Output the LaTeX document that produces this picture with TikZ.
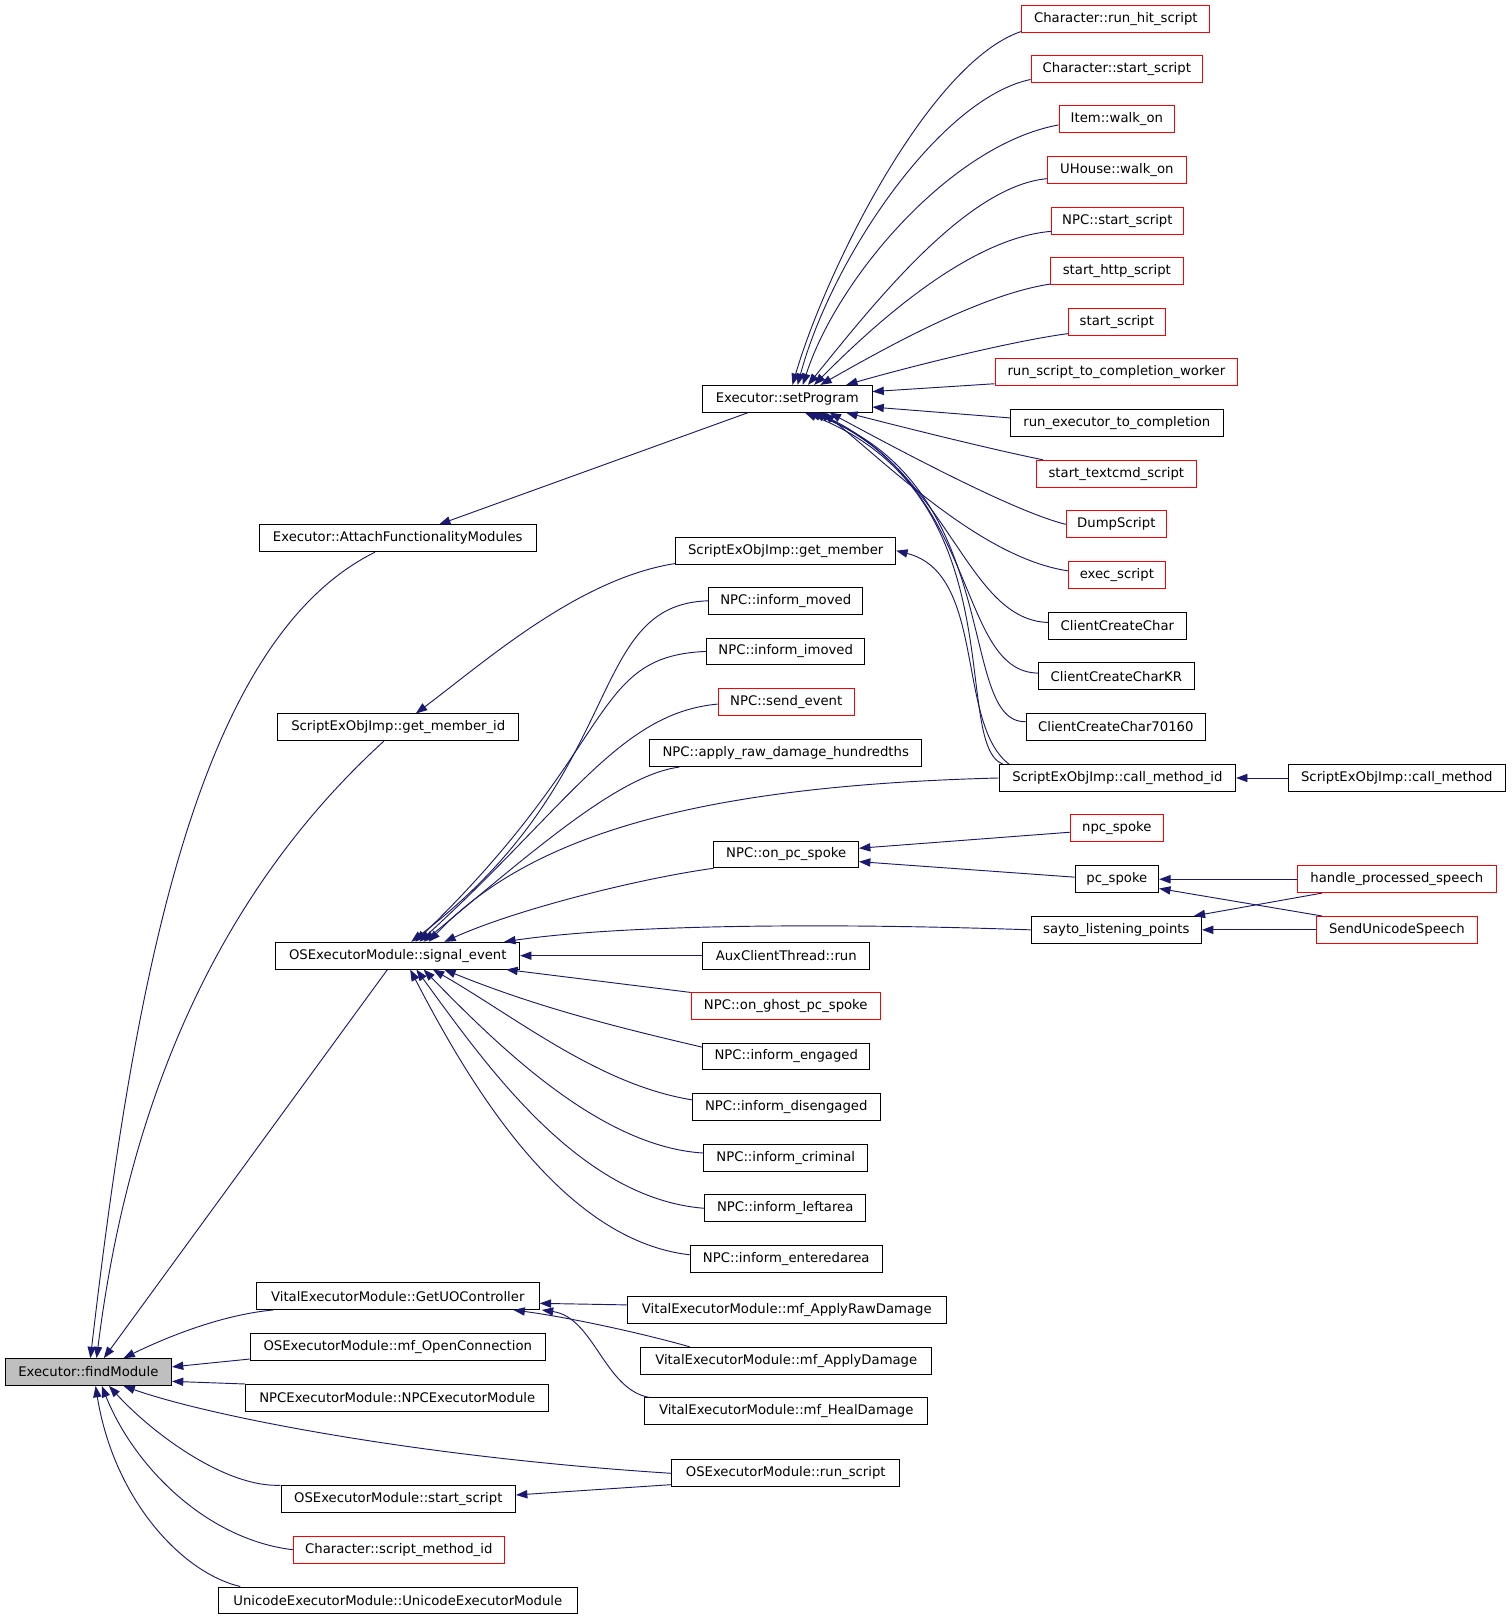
\documentclass[tikz,border=0pt]{standalone}
\usepackage{fontspec}
\setmainfont{DejaVu Sans}
\usetikzlibrary{arrows.meta}
\definecolor{edgeblue}{HTML}{191970}
\begin{document}
\begin{tikzpicture}[x=1pt, y=-1pt,
    fn/.style={draw=black, line width=0.85pt, fill=white, minimum height=26pt, inner xsep=3pt, inner ysep=0pt,
        font=\fontsize{12.8}{14}\selectfont},
    fnred/.style={fn, draw=red},
    fncur/.style={fn, fill=black!25},
    call/.style={draw=edgeblue, line width=0.9pt, {Triangle[length=11pt,width=8pt]}-}]
    \useasboundingbox (0,0) rectangle (1463,1568);
    \fill[white] (0,0) rectangle (1463,1568);

    \node[fncur, minimum width=161pt] (fm) at (85.5,1328) {Executor::findModule};

    \node[fn, minimum width=268pt] (attach) at (385,521) {Executor::AttachFunctionalityModules};
    \node[fn, minimum width=233pt] (getmemid) at (385.5,704) {ScriptExObjImp::get\_member\_id};
    \node[fn, minimum width=236pt] (sigev) at (385,925) {OSExecutorModule::signal\_event};
    \node[fn, minimum width=274pt] (getuo) at (385,1254.5) {VitalExecutorModule::GetUOController};
    \node[fn, minimum width=286pt] (openconn) at (385,1304) {OSExecutorModule::mf\_OpenConnection};
    \node[fn, minimum width=293pt] (npcexec) at (384.5,1353) {NPCExecutorModule::NPCExecutorModule};
    \node[fn, minimum width=227pt] (osstart) at (385.5,1451) {OSExecutorModule::start\_script};
    \node[fnred, minimum width=204pt] (smid) at (386,1500) {Character::script\_method\_id};
    \node[fn, minimum width=348pt] (unicode) at (385,1549) {UnicodeExecutorModule::UnicodeExecutorModule};

    \node[fn, minimum width=164pt] (sp) at (762,386) {Executor::setProgram};
    \node[fn, minimum width=213pt] (getmem) at (760.5,533) {ScriptExObjImp::get\_member};
    \node[fn, minimum width=149pt] (moved) at (760.5,581.5) {NPC::inform\_moved};
    \node[fn, minimum width=153pt] (imoved) at (760.5,630.5) {NPC::inform\_imoved};
    \node[fnred, minimum width=132pt] (sendev) at (761,679.5) {NPC::send\_event};
    \node[fn, minimum width=263pt] (rawdmg) at (760.5,729) {NPC::apply\_raw\_damage\_hundredths};
    \node[fn, minimum width=140pt] (onpc) at (761,827) {NPC::on\_pc\_spoke};
    \node[fn, minimum width=162pt] (aux) at (761,925) {AuxClientThread::run};
    \node[fnred, minimum width=183pt] (ghost) at (760.5,974) {NPC::on\_ghost\_pc\_spoke};
    \node[fn, minimum width=162pt] (engaged) at (761,1022.5) {NPC::inform\_engaged};
    \node[fn, minimum width=182pt] (diseng) at (761,1071.5) {NPC::inform\_disengaged};
    \node[fn, minimum width=159pt] (criminal) at (760.5,1121) {NPC::inform\_criminal};
    \node[fn, minimum width=156pt] (leftarea) at (760,1169.5) {NPC::inform\_leftarea};
    \node[fn, minimum width=186pt] (entered) at (761,1218.5) {NPC::inform\_enteredarea};
    \node[fn, minimum width=309pt] (applyraw) at (761.5,1268) {VitalExecutorModule::mf\_ApplyRawDamage};
    \node[fn, minimum width=282pt] (applydmg) at (761,1317) {VitalExecutorModule::mf\_ApplyDamage};
    \node[fn, minimum width=274pt] (heal) at (761,1366) {VitalExecutorModule::mf\_HealDamage};
    \node[fn, minimum width=221pt] (runscript) at (760.5,1426) {OSExecutorModule::run\_script};

    \node[fnred, minimum width=182pt] (hit) at (1080,18) {Character::run\_hit\_script};
    \node[fnred, minimum width=166pt] (cstart) at (1081,66.5) {Character::start\_script};
    \node[fnred, minimum width=112pt] (item) at (1081,115.5) {Item::walk\_on};
    \node[fnred, minimum width=134pt] (uhouse) at (1081,164.5) {UHouse::walk\_on};
    \node[fnred, minimum width=127pt] (npcstart) at (1081.5,213.5) {NPC::start\_script};
    \node[fnred, minimum width=128pt] (http) at (1081,262.5) {start\_http\_script};
    \node[fnred, minimum width=94pt] (sscript) at (1081,311.5) {start\_script};
    \node[fnred, minimum width=235pt] (worker) at (1080.5,360) {run\_script\_to\_completion\_worker};
    \node[fn, minimum width=206pt] (runexec) at (1081,409.5) {run\_executor\_to\_completion};
    \node[fnred, minimum width=155pt] (textcmd) at (1080.5,458.5) {start\_textcmd\_script};
    \node[fnred, minimum width=97pt] (dump) at (1080.5,507.5) {DumpScript};
    \node[fnred, minimum width=94pt] (exec) at (1081,556.5) {exec\_script};
    \node[fn, minimum width=133pt] (ccc) at (1081.5,605.5) {ClientCreateChar};
    \node[fn, minimum width=151pt] (ccckr) at (1080.5,654.5) {ClientCreateCharKR};
    \node[fn, minimum width=174pt] (ccc70) at (1080,703.5) {ClientCreateChar70160};
    \node[fn, minimum width=229pt] (cmid) at (1081.5,753) {ScriptExObjImp::call\_method\_id};
    \node[fnred, minimum width=90pt] (npcspoke) at (1081,801.5) {npc\_spoke};
    \node[fn, minimum width=81pt] (pcspoke) at (1081,851) {pc\_spoke};
    \node[fn, minimum width=165pt] (sayto) at (1080.5,900) {sayto\_listening\_points};

    \node[fn, minimum width=210pt] (cmeth) at (1352,753) {ScriptExObjImp::call\_method};
    \node[fnred, minimum width=192pt] (hps) at (1352,851) {handle\_processed\_speech};
    \node[fnred, minimum width=156pt] (sus) at (1352,900) {SendUnicodeSpeech};

    \draw[call] ([xshift=2pt]fm.north) .. controls (130,950) and (190,620) .. ([xshift=-22pt]attach.south);
    \draw[call] ([xshift=8pt]fm.north) .. controls (125,1060) and (215,860) .. ([xshift=-14pt]getmemid.south);
    \draw[call] ([xshift=15pt]fm.north) -- ([xshift=-10pt]sigev.south);
    \draw[call] ([xshift=34pt]fm.north) .. controls (170,1290) and (220,1272) .. ([xshift=17pt]getuo.south west);
    \draw[call] ([yshift=5pt]fm.east) -- ([yshift=2pt]openconn.south west);
    \draw[call] ([yshift=-9pt]fm.east) -- (npcexec.north west);
    \draw[call] ([xshift=34pt]fm.south) .. controls (200,1370) and (400,1410) .. (runscript.west);
    \draw[call] ([xshift=20pt]fm.south) .. controls (150,1390) and (220,1440) .. (osstart.north west);
    \draw[call] ([xshift=13pt]fm.south) .. controls (130,1420) and (200,1490) .. (smid.west);
    \draw[call] ([xshift=7pt]fm.south) .. controls (110,1450) and (175,1522) .. ([xshift=22pt]unicode.north west);

    \draw[call] ([xshift=40pt]attach.north) -- ([xshift=-38pt]sp.south);
    \draw[call] ([xshift=17pt]getmemid.north) .. controls (470,640) and (560,560) .. ([yshift=1pt]getmem.south west);

    \draw[call] ([xshift=5pt]sp.north) .. controls (800,260) and (900,60) .. ([yshift=1pt]hit.south west);
    \draw[call] ([xshift=10pt]sp.north) .. controls (805,250) and (910,95) .. ([yshift=3pt]cstart.south west);
    \draw[call] ([xshift=15pt]sp.north) .. controls (810,270) and (920,140) .. ([yshift=8pt]item.south west);
    \draw[call] ([xshift=20pt]sp.north) .. controls (845,295) and (935,180) .. ([yshift=5pt]uhouse.south west);
    \draw[call] ([xshift=26pt]sp.north) .. controls (850,310) and (940,230) .. ([yshift=3pt]npcstart.south west);
    \draw[call] ([xshift=32pt]sp.north) .. controls (860,335) and (950,285) .. ([yshift=1pt]http.south west);
    \draw[call] ([xshift=57pt]sp.north) .. controls (880,355) and (980,330) .. ([yshift=2pt]sscript.south west);
    \draw[call] ([yshift=7pt]sp.east) -- ([yshift=2pt]worker.south west);
    \draw[call] ([yshift=-8pt]sp.east) -- ([yshift=5pt]runexec.west);
    \draw[call] ([xshift=57pt]sp.south) .. controls (880,415) and (960,435) .. ([xshift=7pt]textcmd.north west);
    \draw[call] ([xshift=41pt]sp.south) .. controls (860,430) and (980,495) .. (dump.west);
    \draw[call] ([xshift=35pt]sp.south) .. controls (860,450) and (950,540) .. ([yshift=4pt]exec.west);
    \draw[call] ([xshift=29pt]sp.south) .. controls (920,460) and (935,600) .. ([yshift=3pt]ccc.west);
    \draw[call] ([xshift=25pt]sp.south) .. controls (950,470) and (925,650) .. ([yshift=3pt]ccckr.west);
    \draw[call] ([xshift=21pt]sp.south) .. controls (975,470) and (925,700) .. ([yshift=5pt]ccc70.west);
    \draw[call] ([xshift=17pt]sp.south) .. controls (985,480) and (920,720) .. ([xshift=4pt]cmid.north west);

    \draw[call] (getmem.east) .. controls (955,555) and (925,700) .. ([xshift=10pt]cmid.north west);

    \draw[call] ([xshift=13pt]sigev.north) .. controls (610,750) and (565,585) .. (moved.west);
    \draw[call] ([xshift=17pt]sigev.north) .. controls (600,720) and (570,635) .. (imoved.west);
    \draw[call] ([xshift=21pt]sigev.north) .. controls (550,780) and (600,690) .. ([yshift=-2pt]sendev.west);
    \draw[call] ([xshift=25pt]sigev.north) .. controls (520,820) and (600,750) .. ([xshift=29pt]rawdmg.south west);
    \draw[call] ([xshift=30pt]sigev.north) .. controls (520,800) and (700,760) .. (cmid.west);
    \draw[call] ([xshift=45pt]sigev.north) .. controls (500,880) and (620,850) .. (onpc.south west);
    \draw[call] ([xshift=103pt]sigev.north) .. controls (600,895) and (800,893) .. (sayto.west);
    \draw[call] (sigev.east) -- (aux.west);
    \draw[call] ([xshift=105pt]sigev.south) -- (ghost.north west);
    \draw[call] ([xshift=45pt]sigev.south) .. controls (520,975) and (600,995) .. ([yshift=9pt]engaged.west);
    \draw[call] ([xshift=34pt]sigev.south) .. controls (500,985) and (580,1050) .. ([yshift=7pt]diseng.west);
    \draw[call] ([xshift=25pt]sigev.south) .. controls (480,1010) and (580,1110) .. ([yshift=5pt]criminal.west);
    \draw[call] ([xshift=18pt]sigev.south) .. controls (470,1030) and (560,1160) .. (leftarea.west);
    \draw[call] ([xshift=12pt]sigev.south) .. controls (450,1040) and (540,1200) .. ([yshift=4pt]entered.west);

    \draw[call] ([yshift=6pt]onpc.east) -- ([yshift=-4pt]npcspoke.west);
    \draw[call] ([yshift=-7pt]onpc.east) -- ([yshift=2pt]pcspoke.west);
    \draw[call] (pcspoke.east) -- (hps.west);
    \draw[call] ([yshift=-9pt]pcspoke.east) -- ([xshift=6pt]sus.north west);
    \draw[call] ([xshift=-8pt]sayto.north east) -- ([xshift=24pt]hps.south west);
    \draw[call] (sayto.east) -- (sus.west);
    \draw[call] (cmid.east) -- (cmeth.west);

    \draw[call] ([yshift=-7pt]getuo.east) -- ([yshift=5pt]applyraw.west);
    \draw[call] ([xshift=112pt]getuo.south) .. controls (550,1275) and (620,1290) .. ([xshift=48pt]applydmg.north west);
    \draw[call] ([xshift=2pt]getuo.south east) .. controls (575,1275) and (585,1345) .. ([xshift=5pt]heal.north west);
    \draw[call] ([yshift=4pt]osstart.east) -- ([yshift=-11pt]runscript.west);
\end{tikzpicture}
\end{document}
